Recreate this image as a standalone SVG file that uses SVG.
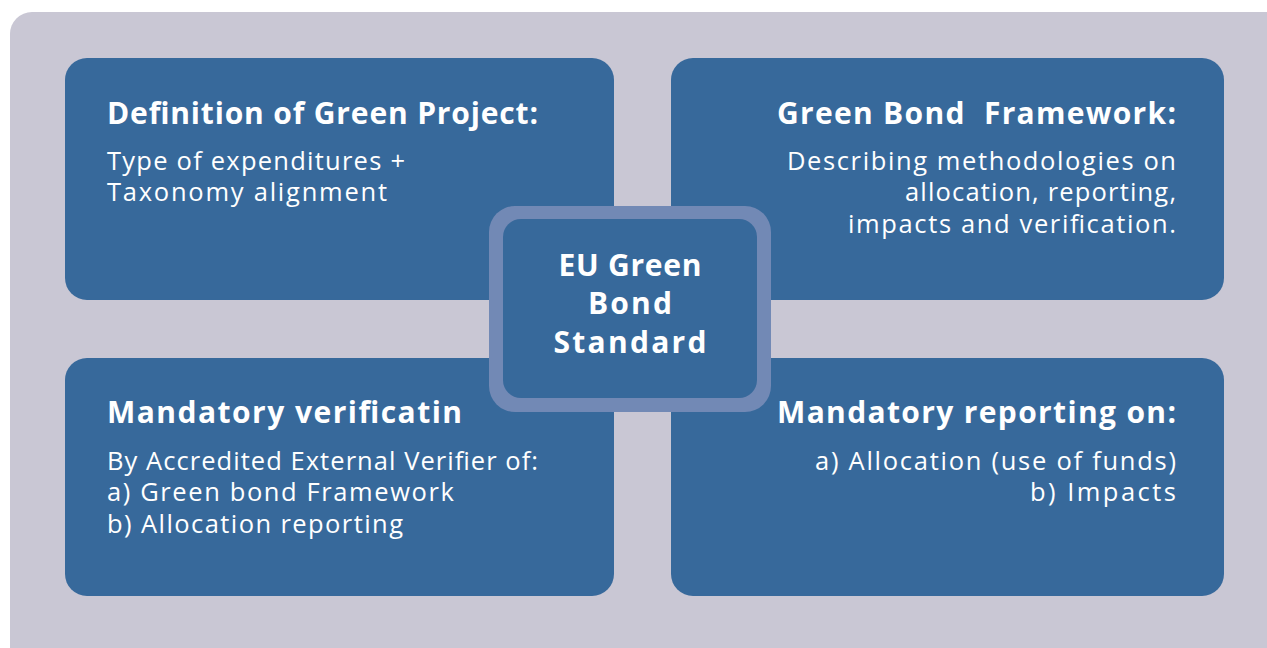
<svg xmlns="http://www.w3.org/2000/svg" width="1267" height="648" viewBox="0 0 1267 648">
<style>
.box{fill:#37699B}
.t{font-family:"Open Sans","Liberation Sans",sans-serif;font-weight:700;font-size:30px;fill:#FFFFFF}
.b{font-family:"Open Sans","Liberation Sans",sans-serif;font-weight:400;font-size:25.5px;fill:#FFFFFF}
.r{text-anchor:end}
.c{text-anchor:middle}
</style>
<rect x="10" y="12" width="1290" height="680" rx="22" fill="#C9C7D4"/>
<g id="definition">
<rect class="box" x="65" y="58" width="549" height="242" rx="22"/>
<text class="t" x="107" y="124" textLength="431" lengthAdjust="spacing">Definition of Green Project:</text>
<text class="b" x="107" y="170" textLength="298" lengthAdjust="spacing">Type of expenditures +</text>
<text class="b" x="107" y="201" textLength="280" lengthAdjust="spacing">Taxonomy alignment</text>
</g>
<g id="framework">
<rect class="box" x="671" y="58" width="553" height="242" rx="22"/>
<text class="t r" x="1176" y="124" textLength="399" lengthAdjust="spacing" xml:space="preserve">Green Bond  Framework:</text>
<text class="b r" x="1176" y="170" textLength="389" lengthAdjust="spacing">Describing methodologies on</text>
<text class="b r" x="1176" y="201" textLength="271" lengthAdjust="spacing">allocation, reporting,</text>
<text class="b r" x="1176" y="233" textLength="328" lengthAdjust="spacing">impacts and verification.</text>
</g>
<g id="verification">
<rect class="box" x="65" y="358" width="549" height="238" rx="22"/>
<text class="t" x="107" y="423" textLength="355" lengthAdjust="spacing">Mandatory verificatin</text>
<text class="b" x="107" y="470" textLength="431" lengthAdjust="spacing">By Accredited External Verifier of:</text>
<text class="b" x="107" y="501" textLength="347" lengthAdjust="spacing">a) Green bond Framework</text>
<text class="b" x="107" y="533" textLength="296" lengthAdjust="spacing">b) Allocation reporting</text>
</g>
<g id="reporting">
<rect class="box" x="671" y="358" width="553" height="238" rx="22"/>
<text class="t r" x="1176" y="423" textLength="399" lengthAdjust="spacing">Mandatory reporting on:</text>
<text class="b r" x="1176" y="470" textLength="361" lengthAdjust="spacing">a) Allocation (use of funds)</text>
<text class="b r" x="1176" y="501" textLength="146" lengthAdjust="spacing">b) Impacts</text>
</g>
<g id="center">
<rect x="489" y="206" width="282" height="206" rx="26" fill="#7289B5"/>
<rect class="box" x="503" y="219" width="254" height="179" rx="18"/>
<text class="t c" x="630" y="276" textLength="143" lengthAdjust="spacing">EU Green</text>
<text class="t c" x="630" y="314" textLength="84" lengthAdjust="spacing">Bond</text>
<text class="t c" x="630" y="353" textLength="153" lengthAdjust="spacing">Standard</text>
</g>
<g id="connectors"/>
</svg>
